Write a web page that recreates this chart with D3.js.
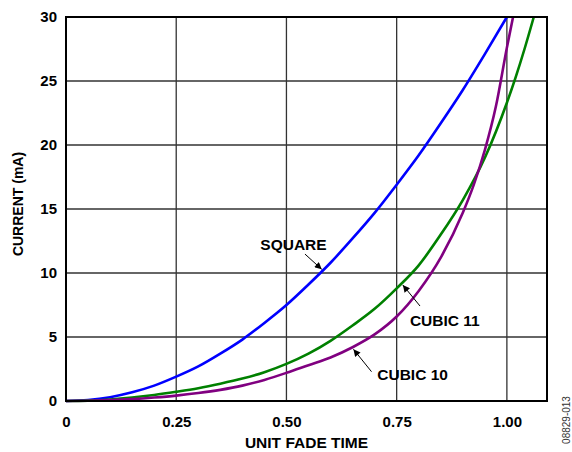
<!DOCTYPE html>
<html>
<head>
<meta charset="utf-8">
<script src="https://cdn.jsdelivr.net/npm/d3@7"></script>
<style>
  body { margin: 0; background: #fff; }
  text { font-family: "Liberation Sans", Arial, sans-serif; }
</style>
</head>
<body>
<div id="chart"></div>
<script>
// tick labels
const xTicks = [0, 0.25, 0.5, 0.75, 1.0]
const xTickLabels = ['0', '0.25', '0.50', '0.75', '1.00']
const yTicks = [0, 5, 10, 15, 20, 25, 30]

// SQUARE curve (unit fade time, mA)
const squareT = [0, 0.05, 0.1, 0.15, 0.2, 0.25, 0.3, 0.35, 0.4, 0.45, 0.5, 0.55, 0.6, 0.65, 0.7, 0.75, 0.8, 0.85, 0.9, 0.95, 1.0]
const squareI = [0, 0.08, 0.3, 0.68, 1.2, 1.9, 2.7, 3.7, 4.8, 6.1, 7.5, 9.1, 10.8, 12.7, 14.7, 16.9, 19.2, 21.7, 24.3, 27.1, 30]

// CUBIC 11 curve
const cubic11T = [0, 0.05, 0.1, 0.15, 0.2, 0.25, 0.3, 0.35, 0.4, 0.45, 0.5, 0.55, 0.6, 0.65, 0.7, 0.75, 0.8, 0.85, 0.9, 0.95, 1.0, 1.02, 1.04, 1.061]
const cubic11I = [0, 0.03, 0.12, 0.27, 0.47, 0.72, 1.0, 1.35, 1.75, 2.25, 2.9, 3.7, 4.7, 5.9, 7.2, 8.8, 10.6, 13.0, 15.7, 19.0, 23.3, 25.3, 27.5, 30]

// CUBIC 10 curve
const cubic10T = [0, 0.05, 0.1, 0.15, 0.2, 0.25, 0.3, 0.35, 0.4, 0.45, 0.5, 0.55, 0.6, 0.65, 0.7, 0.75, 0.8, 0.85, 0.9, 0.925, 0.95, 0.975, 1.0, 1.014]
const cubic10I = [0, 0.02, 0.07, 0.15, 0.27, 0.42, 0.62, 0.87, 1.2, 1.65, 2.2, 2.8, 3.4, 4.2, 5.2, 6.6, 8.6, 11.2, 14.7, 16.9, 19.6, 23.0, 27.6, 30]

const seriesNames = ['SQUARE', 'CUBIC 11', 'CUBIC 10']
const seriesColors = ['#0000ff', '#008000', '#800080']

// callouts: [text x, text y, anchor, arrow tail t, tail I, tip t, tip I] in data units
const callouts = [
    ['SQUARE', 0.516, 11.8, 'middle', 0.542, 11.48, 0.58, 10.29],
    ['CUBIC 11', 0.780, 5.86, 'start', 0.803, 7.42, 0.764, 9.06],
    ['CUBIC 10', 0.706, 1.64, 'start', 0.693, 2.29, 0.652, 4.04]
]

const W = 572, H = 452
const mLeft = 66, mRight = 547, mTop = 17, mBottom = 401

const x = d3.scaleLinear().domain([0, 1.091]).range([mLeft, mRight])
const y = d3.scaleLinear().domain([0, 30]).range([mBottom, mTop])

const svg = d3.select('#chart').append('svg')
    .attr('width', W)
    .attr('height', H)

// grid
svg.append('g').selectAll('line')
    .data(xTicks.slice(1))
    .enter().append('line')
    .attr('x1', d => x(d)).attr('x2', d => x(d))
    .attr('y1', mTop).attr('y2', mBottom)
    .attr('stroke', '#333').attr('stroke-width', 1.3)

svg.append('g').selectAll('line')
    .data(yTicks.slice(1, -1))
    .enter().append('line')
    .attr('x1', mLeft).attr('x2', mRight)
    .attr('y1', d => y(d)).attr('y2', d => y(d))
    .attr('stroke', '#333').attr('stroke-width', 1.3)

// axes (labels only)
const xAxis = d3.axisBottom(x).tickValues(xTicks)
    .tickFormat((d, i) => xTickLabels[i]).tickSize(0).tickPadding(15)
const gx = svg.append('g')
    .attr('transform', 'translate(0,' + mBottom + ')')
    .call(xAxis)
gx.select('.domain').remove()
gx.selectAll('text').attr('font-size', 15).attr('font-weight', 'bold')
    .attr('font-family', '"Liberation Sans", Arial, sans-serif').attr('fill', '#000')

const yAxis = d3.axisLeft(y).tickValues(yTicks).tickSize(0).tickPadding(9)
const gy = svg.append('g')
    .attr('transform', 'translate(' + mLeft + ',0)')
    .call(yAxis)
gy.select('.domain').remove()
gy.selectAll('text').attr('font-size', 15).attr('font-weight', 'bold')
    .attr('font-family', '"Liberation Sans", Arial, sans-serif').attr('fill', '#000')

// curves
const line = d3.line()
    .x(d => x(d[0]))
    .y(d => y(d[1]))
    .curve(d3.curveMonotoneX)

const seriesT = [squareT, cubic11T, cubic10T]
const seriesI = [squareI, cubic11I, cubic10I]

seriesNames.forEach((name, k) => {
    const pts = seriesT[k].map((t, i) => [t, seriesI[k][i]])
    svg.append('path')
        .datum(pts)
        .attr('d', line)
        .attr('fill', 'none')
        .attr('stroke', seriesColors[k])
        .attr('stroke-width', 2.6)
        .attr('stroke-linejoin', 'round')
})

// frame
svg.append('rect')
    .attr('x', mLeft).attr('y', mTop)
    .attr('width', mRight - mLeft).attr('height', mBottom - mTop)
    .attr('fill', 'none').attr('stroke', '#000').attr('stroke-width', 2)

// callouts
svg.append('defs').append('marker')
    .attr('id', 'head')
    .attr('viewBox', '0 0 10 10')
    .attr('refX', 10).attr('refY', 5)
    .attr('markerWidth', 9).attr('markerHeight', 7)
    .attr('markerUnits', 'userSpaceOnUse')
    .attr('orient', 'auto')
    .append('path').attr('d', 'M0,0 L10,5 L0,10 Z').attr('fill', '#000')

callouts.forEach(c => {
    svg.append('text')
        .attr('x', x(c[1])).attr('y', y(c[2]))
        .attr('text-anchor', c[3])
        .attr('font-size', 15.5).attr('font-weight', 'bold')
        .text(c[0])
    svg.append('line')
        .attr('x1', x(c[4])).attr('y1', y(c[5]))
        .attr('x2', x(c[6])).attr('y2', y(c[7]))
        .attr('stroke', '#000').attr('stroke-width', 1)
        .attr('marker-end', 'url(#head)')
})

// titles
svg.append('text')
    .attr('x', (mLeft + mRight) / 2).attr('y', 448)
    .attr('text-anchor', 'middle')
    .attr('font-size', 15.5).attr('font-weight', 'bold')
    .text('UNIT FADE TIME')

svg.append('text')
    .attr('transform', 'translate(22.7,204) rotate(-90)')
    .attr('text-anchor', 'middle')
    .attr('font-size', 14).attr('font-weight', 'bold')
    .text('CURRENT (mA)')

svg.append('text')
    .attr('transform', 'translate(570,420) rotate(-90)')
    .attr('text-anchor', 'middle')
    .attr('font-size', 10)
    .attr('fill', '#333')
    .text('08829-013')
</script>
</body>
</html>
